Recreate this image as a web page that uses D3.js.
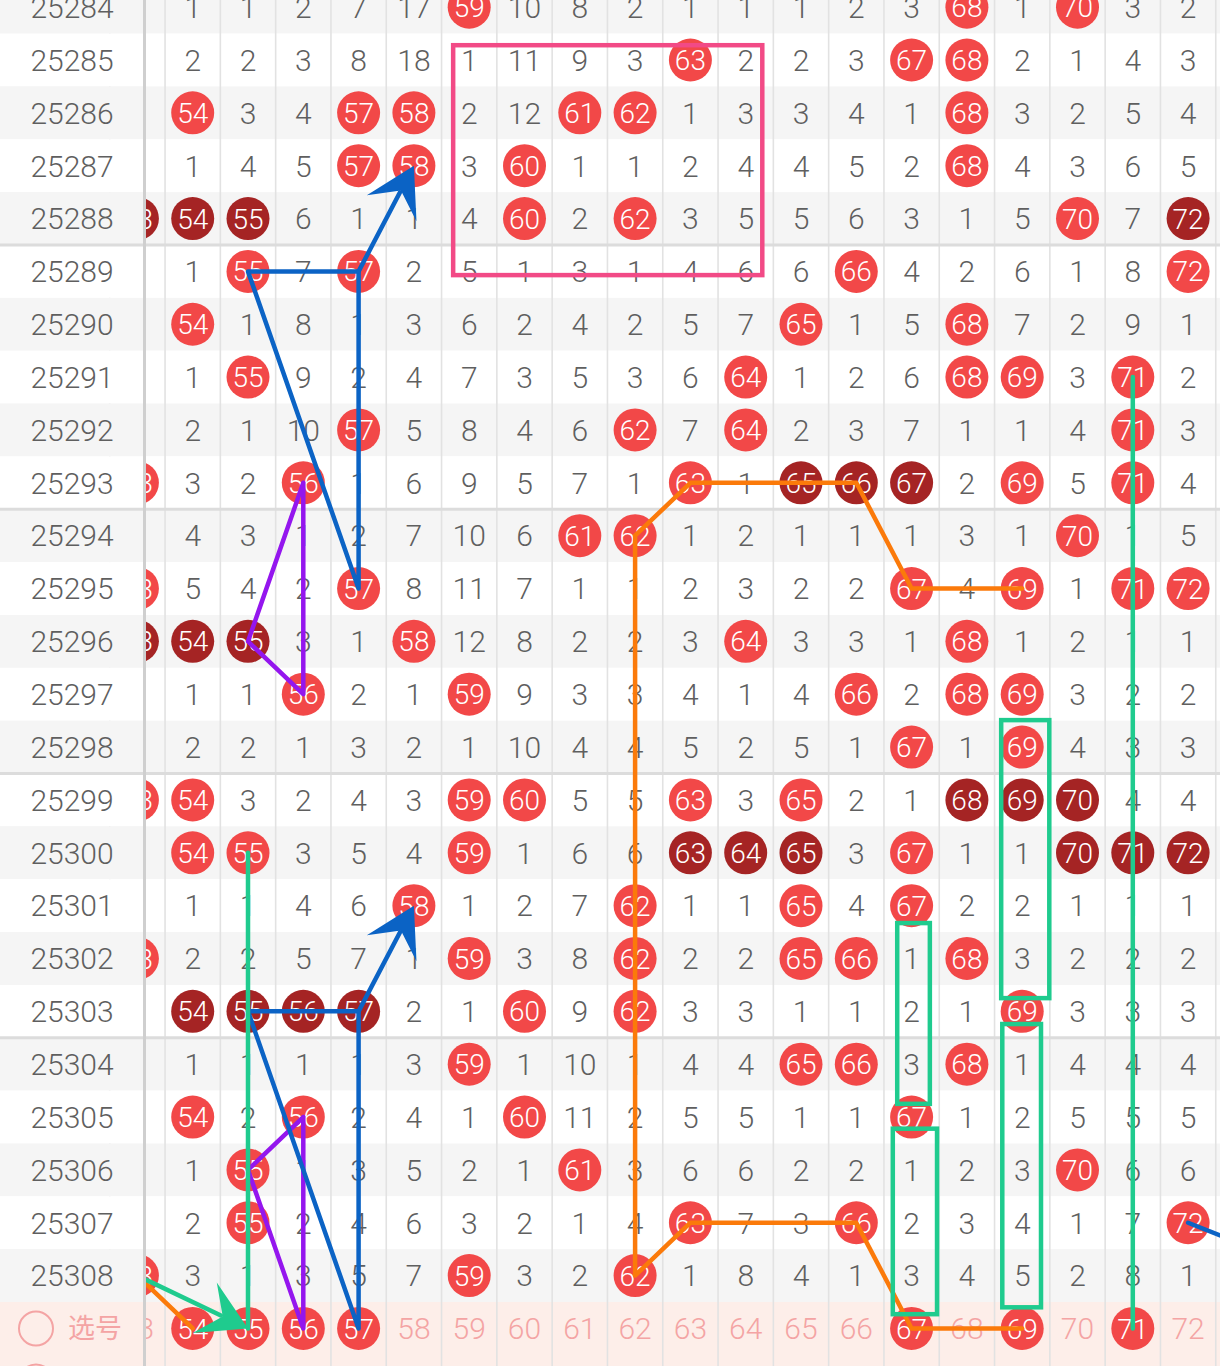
<!DOCTYPE html>
<html><head><meta charset="utf-8">
<script src="https://cdn.jsdelivr.net/npm/d3@7"></script>
<style>html,body{margin:0;padding:0;background:#fff;overflow:hidden}svg{display:block}</style>
</head><body>
<svg id="c" width="1220" height="1366"></svg>
<script>
// ---------- DATA ----------
const periods = [25284,25285,25286,25287,25288,25289,25290,25291,25292,25293,25294,25295,25296,
                 25297,25298,25299,25300,25301,25302,25303,25304,25305,25306,25307,25308];
const numbers = [54,55,56,57,58,59,60,61,62,63,64,65,66,67,68,69,70,71,72];
// miss counts for numbers 54..72; 0 = drawn (red ball), -1 = drawn in a consecutive run (dark ball)
const misses = [
  [1,1,2,7,17,0,10,8,2,1,1,1,2,3,0,1,0,3,2],        // 25284
  [2,2,3,8,18,1,11,9,3,0,2,2,3,0,0,2,1,4,3],        // 25285
  [0,3,4,0,0,2,12,0,0,1,3,3,4,1,0,3,2,5,4],         // 25286
  [1,4,5,0,0,3,0,1,1,2,4,4,5,2,0,4,3,6,5],          // 25287
  [-1,-1,6,1,1,4,0,2,0,3,5,5,6,3,1,5,0,7,-1],       // 25288
  [1,0,7,0,2,5,1,3,1,4,6,6,0,4,2,6,1,8,0],          // 25289
  [0,1,8,1,3,6,2,4,2,5,7,0,1,5,0,7,2,9,1],          // 25290
  [1,0,9,2,4,7,3,5,3,6,0,1,2,6,0,0,3,0,2],          // 25291
  [2,1,10,0,5,8,4,6,0,7,0,2,3,7,1,1,4,0,3],         // 25292
  [3,2,0,1,6,9,5,7,1,0,1,-1,-1,-1,2,0,5,0,4],       // 25293
  [4,3,1,2,7,10,6,0,0,1,2,1,1,1,3,1,0,1,5],         // 25294
  [5,4,2,0,8,11,7,1,1,2,3,2,2,0,4,0,1,0,0],         // 25295
  [-1,-1,3,1,0,12,8,2,2,3,0,3,3,1,0,1,2,1,1],       // 25296
  [1,1,0,2,1,0,9,3,3,4,1,4,0,2,0,0,3,2,2],          // 25297
  [2,2,1,3,2,1,10,4,4,5,2,5,1,0,1,0,4,3,3],         // 25298
  [0,3,2,4,3,0,0,5,5,0,3,0,2,1,-1,-1,-1,4,4],       // 25299
  [0,0,3,5,4,0,1,6,6,-1,-1,-1,3,0,1,1,-1,-1,-1],    // 25300
  [1,1,4,6,0,1,2,7,0,1,1,0,4,0,2,2,1,1,1],          // 25301
  [2,2,5,7,1,0,3,8,0,2,2,0,0,1,0,3,2,2,2],          // 25302
  [-1,-1,-1,-1,2,1,0,9,0,3,3,1,1,2,1,0,3,3,3],      // 25303
  [1,1,1,1,3,0,1,10,1,4,4,0,0,3,0,1,4,4,4],         // 25304
  [0,2,0,2,4,1,0,11,2,5,5,1,1,0,1,2,5,5,5],         // 25305
  [1,0,1,3,5,2,1,0,3,6,6,2,2,1,2,3,0,6,6],          // 25306
  [2,0,2,4,6,3,2,1,4,0,7,3,0,2,3,4,1,7,0],          // 25307
  [3,1,3,5,7,0,3,2,0,1,8,4,1,3,4,5,2,8,1]           // 25308
];
// number 53 (mostly hidden behind the frozen label column)
const hits53 = [25288,25293,25295,25296,25299,25302,25308];
const dark53 = [25288,25296];
// selection row (选号)
const selLabel = "选号";
const selRowNumbers = [53,54,55,56,57,58,59,60,61,62,63,64,65,66,67,68,69,70,71,72];
const selected = [54,55,56,57,67,69,71];
const groupBreaks = [25288,25293,25298,25303];

// hand-drawn annotations, in (number, period) units; period 25309 = 选号 row
const blueLines = [
  [[57,25295],[57,25289],[55,25289],[57,25295]],
  [[57,25309],[57,25303],[55,25303],[57,25309]],
  [[72,25307],[74.4,25308]]
];
const blueArrows = [[[57,25289],[58,25287]], [[57,25303],[58,25301]]];
const purpleLines = [
  [[56,25293],[55,25296],[56,25297],[56,25293]],
  [[56,25305],[55,25306],[56,25309],[56,25305]]
];
const orangeLines = [
  [[69,25295],[67,25295],[66,25293],[63,25293],[62,25294],[62,25308],[63,25307],[66,25307],[67,25309],[69,25309]],
  [[53,25308],[54,25309]]
];
const greenLines = [[[71,25291],[71,25309]], [[55,25300],[55,25309]]];
const greenArrows = [[[53,25308],[55,25309]]];
const greenRects = [
  [68.62,25297.49,69.49,25302.75],
  [68.64,25303.24,69.34,25308.6],
  [66.74,25301.33,67.33,25304.75],
  [66.66,25305.22,67.46,25308.73]
];
const pinkRects = [[58.71,25284.72,64.30,25289.07]];

// ---------- DRAW ----------
const W = 1220, H = 1366, colW = 55.3, rowH = 52.85, SEL = 25309, PANEL = 143;
const FONT = "Roboto, 'Noto Sans', sans-serif";
const RED = "#f24848", DARK = "#a52424", GRAY_TXT = "#5f5f5f", PINK_TXT = "#f4a4a4";
const x = d3.scaleLinear().domain([54, 72]).range([192.7, 1188.1]);
const y = d3.scaleLinear().domain([25285, 25308]).range([60, 1275.6]);
const svg = d3.select("#c");
const allRows = periods.concat([SEL]);
const rowFill = (p, i) => p === SEL ? "#fdeee9" : (i % 2 === 0 ? "#f5f5f5" : "#ffffff");

const main = svg.append("g");
main.selectAll("rect.row").data(allRows).join("rect")
  .attr("x", 0).attr("width", W)
  .attr("y", p => y(p) - rowH / 2).attr("height", p => p === SEL ? H : rowH)
  .attr("fill", rowFill);

// vertical grid
const gridCols = d3.range(53, 75);
main.selectAll("line.v").data(gridCols).join("line")
  .attr("x1", c => x(c) - colW / 2).attr("x2", c => x(c) - colW / 2)
  .attr("y1", 0).attr("y2", H).attr("stroke", "#e2e2e2").attr("stroke-width", 1.6);
main.selectAll("line.h").data(groupBreaks).join("line")
  .attr("x1", 0).attr("x2", W)
  .attr("y1", p => y(p) + rowH / 2).attr("y2", p => y(p) + rowH / 2)
  .attr("stroke", "#dcdcdc").attr("stroke-width", 3);

// cells
const cells = [];
periods.forEach((p, i) => numbers.forEach((n, j) => cells.push({p, n, v: misses[i][j]})));
hits53.forEach(p => cells.push({p, n: 53, v: dark53.includes(p) ? -1 : 0}));
const balls = cells.filter(d => d.v <= 0);
main.selectAll("circle.ball").data(balls).join("circle")
  .attr("cx", d => x(d.n)).attr("cy", d => y(d.p)).attr("r", 21.5)
  .attr("fill", d => d.v < 0 ? DARK : RED);
main.selectAll("text.ball").data(balls).join("text")
  .attr("x", d => x(d.n)).attr("y", d => y(d.p)).attr("dy", "0.36em")
  .attr("text-anchor", "middle").attr("font-family", FONT).attr("font-size", 28).attr("font-weight", 300)
  .attr("fill", "#fff").text(d => d.n);
main.selectAll("text.miss").data(cells.filter(d => d.v > 0)).join("text")
  .attr("x", d => x(d.n)).attr("y", d => y(d.p)).attr("dy", "0.36em")
  .attr("text-anchor", "middle").attr("font-family", FONT).attr("font-size", 30).attr("font-weight", 300)
  .attr("fill", GRAY_TXT).text(d => d.v);

// selection row
const selBalls = selRowNumbers.filter(n => selected.includes(n));
main.selectAll("circle.sel").data(selBalls).join("circle")
  .attr("cx", n => x(n)).attr("cy", y(SEL)).attr("r", 21.5).attr("fill", RED);
main.selectAll("text.sel").data(selRowNumbers).join("text")
  .attr("x", n => x(n)).attr("y", y(SEL)).attr("dy", "0.36em")
  .attr("text-anchor", "middle").attr("font-family", FONT).attr("font-weight", 300)
  .attr("font-size", n => selected.includes(n) ? 28 : 30)
  .attr("fill", n => selected.includes(n) ? "#fff" : PINK_TXT).text(n => n);

// annotations
const pt = d => [x(d[0]), y(d[1])];
const line = d3.line().x(d => x(d[0])).y(d => y(d[1]));
const ov = svg.append("g").attr("fill", "none").attr("stroke-linejoin", "round").attr("stroke-linecap", "round");
function drawLines(data, color) {
  ov.append("g").selectAll("path").data(data).join("path")
    .attr("d", line).attr("stroke", color).attr("stroke-width", 4.5);
}
function drawRects(data, color) {
  ov.append("g").selectAll("rect").data(data).join("rect")
    .attr("x", d => x(d[0])).attr("y", d => y(d[1]))
    .attr("width", d => x(d[2]) - x(d[0])).attr("height", d => y(d[3]) - y(d[1]))
    .attr("stroke", color).attr("stroke-width", 4.5).attr("stroke-linejoin", "miter");
}
function drawArrows(data, color) {
  data.forEach(([a, b]) => {
    const [x1, y1] = pt(a), [x2, y2] = pt(b);
    const L = Math.hypot(x2 - x1, y2 - y1), ux = (x2 - x1) / L, uy = (y2 - y1) / L;
    const nx = -uy, ny = ux;
    const len = 48, hw = 28, notch = 28;
    ov.append("line").attr("x1", x1).attr("y1", y1)
      .attr("x2", x2 - ux * (notch + 2)).attr("y2", y2 - uy * (notch + 2))
      .attr("stroke", color).attr("stroke-width", 4.5);
    const pts = [[x2, y2], [x2 - ux * len + nx * hw, y2 - uy * len + ny * hw],
                 [x2 - ux * notch, y2 - uy * notch], [x2 - ux * len - nx * hw, y2 - uy * len - ny * hw]];
    ov.append("path").attr("d", "M" + pts.map(p => p.join(",")).join("L") + "Z")
      .attr("fill", color).attr("stroke", "none");
  });
}
drawRects(pinkRects, "#f24a86");
drawLines(orangeLines, "#fb7a0a");
drawLines(purpleLines, "#9416ee");
drawLines(blueLines, "#0b63c5");
drawArrows(blueArrows, "#0b63c5");
drawLines(greenLines, "#1fcb8e");
drawRects(greenRects, "#1fcb8e");
drawArrows(greenArrows, "#1fcb8e");

// frozen label panel
const panel = svg.append("g");
panel.selectAll("rect").data(allRows).join("rect")
  .attr("x", 0).attr("width", PANEL)
  .attr("y", p => y(p) - rowH / 2).attr("height", p => p === SEL ? H : rowH)
  .attr("fill", rowFill);
panel.selectAll("line.h").data(groupBreaks).join("line")
  .attr("x1", 0).attr("x2", PANEL)
  .attr("y1", p => y(p) + rowH / 2).attr("y2", p => y(p) + rowH / 2)
  .attr("stroke", "#dcdcdc").attr("stroke-width", 3);
panel.append("line").attr("x1", PANEL + 1.5).attr("x2", PANEL + 1.5).attr("y1", 0).attr("y2", H)
  .attr("stroke", "#cfcfcf").attr("stroke-width", 3);
panel.selectAll("text.lab").data(periods).join("text")
  .attr("x", 72).attr("y", p => y(p)).attr("dy", "0.36em").attr("text-anchor", "middle")
  .attr("font-family", FONT).attr("font-size", 30).attr("font-weight", 300).attr("fill", GRAY_TXT).text(p => p);
panel.append("circle").attr("cx", 36).attr("cy", y(SEL)).attr("r", 17)
  .attr("fill", "none").attr("stroke", PINK_TXT).attr("stroke-width", 2);
panel.append("circle").attr("cx", 36).attr("cy", y(SEL) + 53).attr("r", 17)
  .attr("fill", "none").attr("stroke", PINK_TXT).attr("stroke-width", 2);
panel.append("text").attr("x", 95).attr("y", y(SEL)).attr("dy", "0.36em").attr("text-anchor", "middle")
  .attr("font-family", "'Noto Sans CJK SC', sans-serif").attr("font-size", 27).attr("fill", PINK_TXT).text(selLabel);
</script>
</body></html>
